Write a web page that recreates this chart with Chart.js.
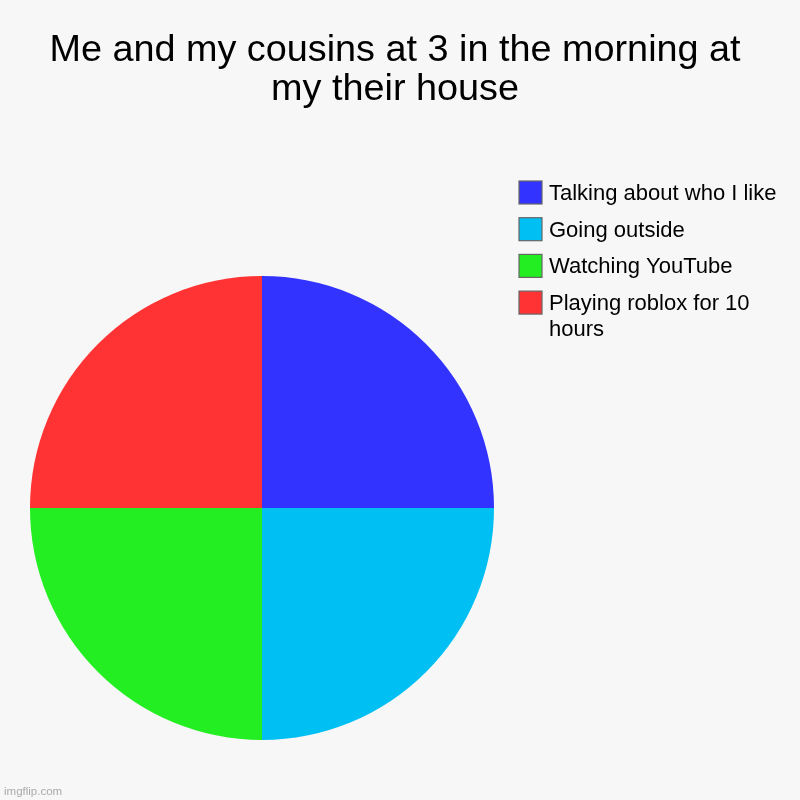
<!DOCTYPE html>
<html>
<head>
<meta charset="utf-8">
<script src="https://cdn.jsdelivr.net/npm/chart.js@4/dist/chart.umd.min.js"></script>
<style>
    html, body { margin: 0; padding: 0; background: #f7f7f7; }
    #wrap { width: 800px; height: 800px; position: relative; }
</style>
</head>
<body>
<div id="wrap"><canvas id="pieChart" width="800" height="800"></canvas></div>
<script>
// ============= Chart data =============
const titleLines = ['Me and my cousins at 3 in the morning at', 'my their house'];
const categories = ['Talking about who I like', 'Going outside', 'Watching YouTube', 'Playing roblox for 10 hours'];
const legendLines = [['Talking about who I like'], ['Going outside'], ['Watching YouTube'], ['Playing roblox for 10', 'hours']];
const shares = [25, 25, 25, 25];
const sliceColors = ['#3333ff', '#00bff3', '#22ee22', '#ff3333'];

const FONT = '"Liberation Sans", Arial, Helvetica, sans-serif';

// Title, legend and watermark are drawn by hand to match the layout
const decorPlugin = {
    id: 'decor',
    afterDraw(chart) {
        const ctx = chart.ctx;
        ctx.save();

        // Title
        ctx.fillStyle = '#000';
        ctx.font = '37.8px ' + FONT;
        ctx.textAlign = 'center';
        ctx.textBaseline = 'alphabetic';
        titleLines.forEach((line, i) => ctx.fillText(line, 395, 61 + i * 39));

        // Legend
        const ds = chart.data.datasets[0];
        let y = 181;
        ctx.textAlign = 'left';
        ctx.font = '22px ' + FONT;
        chart.data.labels.forEach((label, i) => {
            ctx.fillStyle = ds.backgroundColor[i];
            ctx.fillRect(519, y, 23, 23);
            ctx.strokeStyle = '#666';
            ctx.lineWidth = 1.2;
            ctx.strokeRect(519, y, 23, 23);

            ctx.fillStyle = '#000';
            const lines = legendLines[i] || [label];
            lines.forEach((t, j) => ctx.fillText(t, 549, y + 19 + j * 26));
            y += 36.7 + (lines.length - 1) * 26;
        });

        // Watermark
        ctx.fillStyle = '#aaa';
        ctx.font = '11.5px ' + FONT;
        ctx.fillText('imgflip.com', 4, 795);

        ctx.restore();
    }
};

new Chart(document.getElementById('pieChart'), {
    type: 'pie',
    data: {
        labels: categories,
        datasets: [{
            data: shares,
            backgroundColor: sliceColors,
            borderWidth: 0,
            hoverOffset: 0
        }]
    },
    options: {
        responsive: false,
        animation: false,
        layout: { padding: { left: 30, right: 306, top: 276, bottom: 60 } },
        plugins: {
            legend: { display: false },
            title: { display: false },
            tooltip: { enabled: false }
        }
    },
    plugins: [decorPlugin]
});
</script>
</body>
</html>
